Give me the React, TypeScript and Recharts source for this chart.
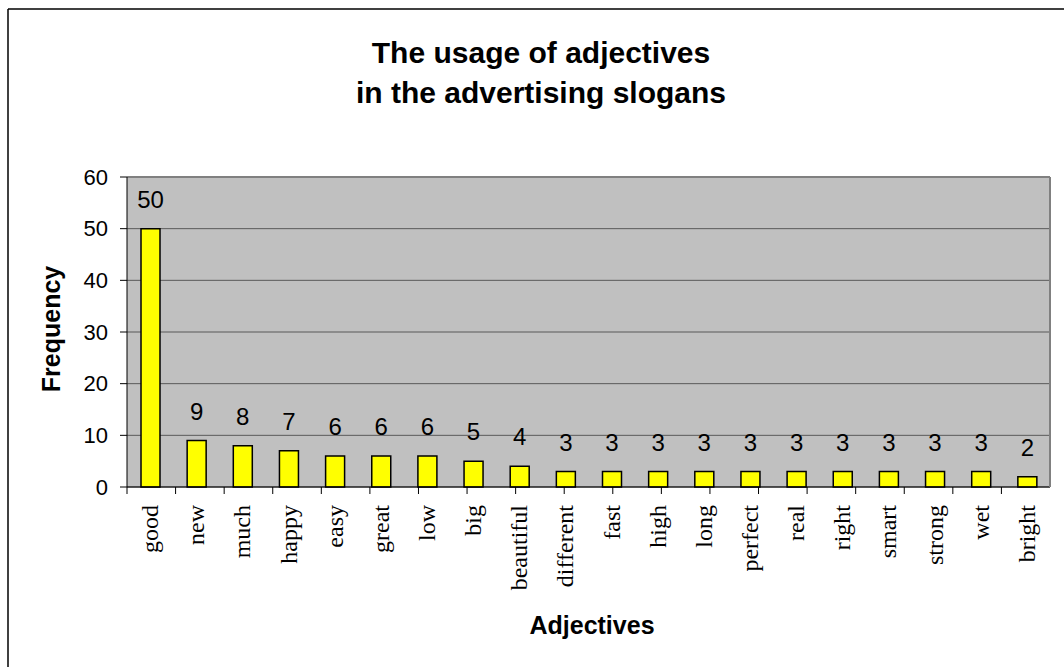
import React from 'react';
import { BarChart, Bar, XAxis, YAxis, CartesianGrid, LabelList } from 'recharts';

const adjectives = [
    'good', 'new', 'much', 'happy', 'easy', 'great', 'low', 'big', 'beautiful', 'different',
    'fast', 'high', 'long', 'perfect', 'real', 'right', 'smart', 'strong', 'wet', 'bright',
];
const frequency = [50, 9, 8, 7, 6, 6, 6, 5, 4, 3, 3, 3, 3, 3, 3, 3, 3, 3, 3, 2];
const yTicks = [0, 10, 20, 30, 40, 50, 60];

const titleLines = ['The usage of adjectives', 'in the advertising slogans'];
const xTitle = 'Adjectives';
const yTitle = 'Frequency';

const data = adjectives.map((adjective, i) => ({ adjective, frequency: frequency[i] }));
// category boundaries (0..n) for the little tick marks between bars, Excel style
const boundaryTicks = [...adjectives.map((_, i) => i), adjectives.length];

const sans = '"Liberation Sans", Arial, Helvetica, sans-serif';
const serif = '"Liberation Serif", "Times New Roman", Times, serif';

const AdjectiveTick = (props: any) => {
    const { x, y, payload } = props;
    return (
        <text
            transform={`translate(${x + 8},${y + 17}) rotate(-90)`}
            textAnchor="end"
            fontFamily={serif}
            fontSize={24}
            fill="#000"
        >
            {payload.value}
        </text>
    );
};

const NoTick = () => <g />;

const App: React.FC = () => {
    return (
        <div style={{ position: 'absolute', left: 0, top: 0, width: 1064, height: 667, background: '#fff' }}>
            <BarChart
                width={1064}
                height={667}
                data={data}
                margin={{ top: 176, right: 13, bottom: 0, left: 0 }}
            >
                <CartesianGrid vertical={false} stroke="#595959" fill="#c0c0c0" fillOpacity={1} />
                {/* bottom axis line + boundary tick marks (sits right under the plot) */}
                <XAxis
                    type="number"
                    domain={[0, adjectives.length]}
                    ticks={boundaryTicks}
                    allowDataOverflow
                    height={1}
                    axisLine={{ stroke: '#000' }}
                    tickLine={{ stroke: '#000' }}
                    tickSize={7}
                    tick={NoTick}
                />
                <XAxis
                    xAxisId="cat"
                    dataKey="adjective"
                    height={179}
                    interval={0}
                    axisLine={false}
                    tickLine={false}
                    tickSize={0}
                    tickMargin={0}
                    tick={<AdjectiveTick />}
                />
                <XAxis
                    xAxisId="frameTop"
                    orientation="top"
                    height={1}
                    axisLine={{ stroke: '#808080', strokeWidth: 2 }}
                    tickLine={false}
                    tick={NoTick}
                />
                <YAxis
                    width={127}
                    domain={[0, 60]}
                    ticks={yTicks}
                    interval={0}
                    axisLine={{ stroke: '#000' }}
                    tickLine={{ stroke: '#000' }}
                    tickSize={7}
                    tickMargin={12}
                    tick={{ fontSize: 22, fill: '#000', fontFamily: sans }}
                />
                <YAxis
                    yAxisId="frame"
                    orientation="right"
                    width={1}
                    domain={[0, 60]}
                    axisLine={{ stroke: '#808080', strokeWidth: 2 }}
                    tickLine={false}
                    tick={NoTick}
                />
                <Bar
                    xAxisId="cat"
                    dataKey="frequency"
                    fill="#ffff00"
                    stroke="#000"
                    strokeWidth={1.5}
                    barSize={19}
                    isAnimationActive={false}
                >
                    <LabelList
                        dataKey="frequency"
                        position="top"
                        offset={21}
                        fill="#000"
                        fontSize={24}
                        fontFamily={sans}
                    />
                </Bar>
            </BarChart>
            <svg width={1064} height={667} style={{ position: 'absolute', left: 0, top: 0, pointerEvents: 'none' }}>
                <line x1={8} y1={9} x2={1064} y2={9} stroke="#000" strokeWidth={1.5} />
                <line x1={8} y1={9} x2={8} y2={667} stroke="#000" strokeWidth={1.5} />
                <text x={541} y={63} textAnchor="middle" fontFamily={sans} fontWeight="bold" fontSize={30} fill="#000">
                    {titleLines[0]}
                </text>
                <text x={541} y={103} textAnchor="middle" fontFamily={sans} fontWeight="bold" fontSize={30} fill="#000">
                    {titleLines[1]}
                </text>
                <text x={592} y={634} textAnchor="middle" fontFamily={sans} fontWeight="bold" fontSize={25} fill="#000">
                    {xTitle}
                </text>
                <text
                    transform="translate(59.5,329) rotate(-90)"
                    textAnchor="middle"
                    fontFamily={sans}
                    fontWeight="bold"
                    fontSize={25}
                    fill="#000"
                >
                    {yTitle}
                </text>
            </svg>
        </div>
    );
};

export default App;
